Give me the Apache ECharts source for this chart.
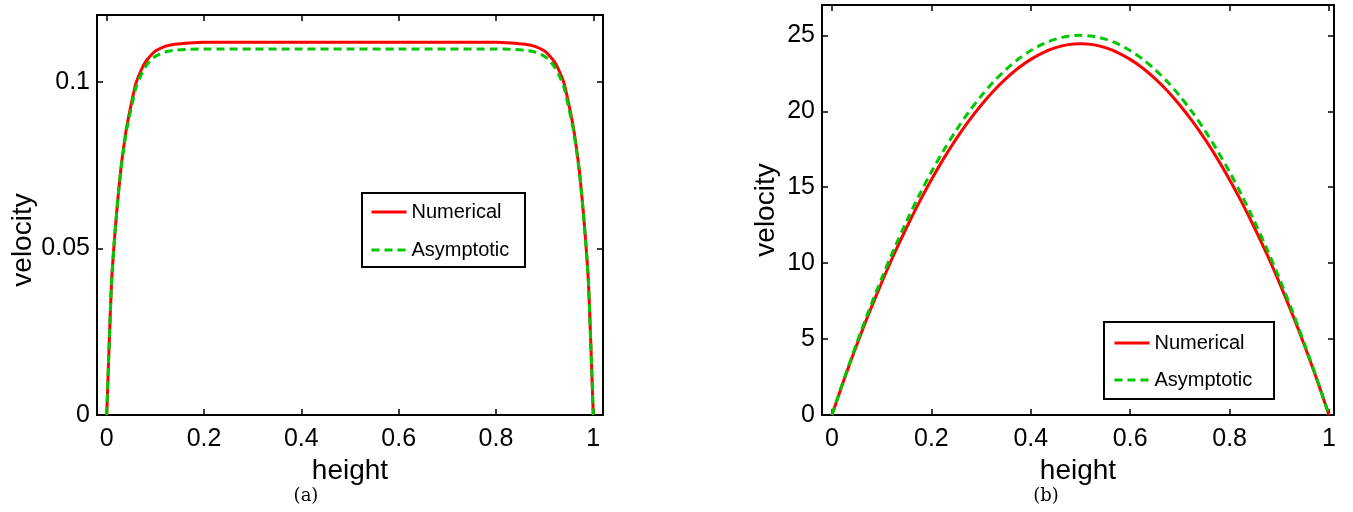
<!DOCTYPE html>
<html>
<head>
<meta charset="utf-8">
<script src="https://cdn.jsdelivr.net/npm/echarts@6/dist/echarts.min.js"></script>
<style>
html,body{margin:0;padding:0;background:#fff;}
#chart{width:1353px;height:512px;}
</style>
</head>
<body>
<div id="chart"></div>
<script>
// ---------- data ----------
const seriesNames = ['Numerical', 'Asymptotic'];

// panel (a)
const xA = [0, 0.005, 0.01, 0.015, 0.02, 0.025, 0.03, 0.035, 0.04, 0.045, 0.05, 0.06, 0.07, 0.08, 0.09, 0.10, 0.12, 0.14, 0.17, 0.2, 0.3, 0.4, 0.5,
            0.6, 0.7, 0.8, 0.83, 0.86, 0.88, 0.90, 0.91, 0.92, 0.93, 0.94, 0.95, 0.955, 0.96, 0.965, 0.97, 0.975, 0.98, 0.985, 0.99, 0.995, 1];
const numericalA = [0, 0.021, 0.040, 0.051, 0.060, 0.068, 0.075, 0.0805, 0.0855, 0.0895, 0.093, 0.0995, 0.1032, 0.1060, 0.1078, 0.1092, 0.1106, 0.1112, 0.1116, 0.1118, 0.1118, 0.1118, 0.1118,
            0.1118, 0.1118, 0.1118, 0.1116, 0.1112, 0.1106, 0.1092, 0.1078, 0.1060, 0.1032, 0.0995, 0.093, 0.0895, 0.0855, 0.0805, 0.075, 0.068, 0.060, 0.051, 0.040, 0.021, 0];
const asymptoticA = [0, 0.021, 0.040, 0.051, 0.060, 0.068, 0.0745, 0.080, 0.0848, 0.0885, 0.0918, 0.0982, 0.1018, 0.1045, 0.1064, 0.1076, 0.1089, 0.1094, 0.1097, 0.1098, 0.1098, 0.1098, 0.1098,
            0.1098, 0.1098, 0.1098, 0.1097, 0.1094, 0.1089, 0.1076, 0.1064, 0.1045, 0.1018, 0.0982, 0.0918, 0.0885, 0.0848, 0.080, 0.0745, 0.068, 0.060, 0.051, 0.040, 0.021, 0];

// panel (b)
const xB = [0, 0.025, 0.05, 0.075, 0.1, 0.125, 0.15, 0.175, 0.2, 0.225, 0.25, 0.275, 0.3, 0.325, 0.35, 0.375, 0.4, 0.425, 0.45, 0.475, 0.5,
            0.525, 0.55, 0.575, 0.6, 0.625, 0.65, 0.675, 0.7, 0.725, 0.75, 0.775, 0.8, 0.825, 0.85, 0.875, 0.9, 0.925, 0.95, 0.975, 1];
const numericalB = [0, 2.39, 4.63, 6.74, 8.72, 10.59, 12.33, 13.97, 15.49, 16.90, 18.18, 19.35, 20.40, 21.34, 22.15, 22.85, 23.42, 23.87, 24.19, 24.39, 24.45,
            24.39, 24.19, 23.87, 23.42, 22.85, 22.15, 21.34, 20.40, 19.35, 18.18, 16.90, 15.49, 13.97, 12.33, 10.59, 8.72, 6.74, 4.63, 2.39, 0];
const asymptoticB = [0, 2.44, 4.75, 6.94, 9.00, 10.94, 12.75, 14.44, 16.00, 17.44, 18.75, 19.94, 21.00, 21.94, 22.75, 23.44, 24.00, 24.44, 24.75, 24.94, 25.00,
            24.94, 24.75, 24.44, 24.00, 23.44, 22.75, 21.94, 21.00, 19.94, 18.75, 17.44, 16.00, 14.44, 12.75, 10.94, 9.00, 6.94, 4.75, 2.44, 0];

// tick labels
const xTicks = [0, 0.2, 0.4, 0.6, 0.8, 1];
const yTicksA = [0, 0.05, 0.1];
const yTicksB = [0, 5, 10, 15, 20, 25];
const xAxisTitle = 'height';
const yAxisTitle = 'velocity';
const captions = ['(a)', '(b)'];

// ---------- chart ----------
const FONT = '"Liberation Sans", Arial, Helvetica, sans-serif';
const RED = '#ff0000';
const GREEN = '#00c800';

function pairs(xs, ys) { return xs.map((x, i) => [x, ys[i]]); }

function xAxisDef(grid, min, max, pos, showLabel) {
  return {
    type: 'value', gridIndex: grid, position: pos, min: min, max: max,
    axisLine: { show: true, onZero: false, lineStyle: { color: '#000', width: 2 } },
    axisTick: { show: true, inside: true, length: 6, customValues: xTicks, lineStyle: { color: '#000', width: 1.5 } },
    axisLabel: { show: showLabel, customValues: xTicks, margin: 12, fontSize: 25, color: '#000', fontFamily: FONT },
    splitLine: { show: false },
    name: showLabel ? xAxisTitle : '', nameLocation: 'middle', nameGap: 30,
    nameTextStyle: { fontSize: 28, color: '#000', fontFamily: FONT }
  };
}
function yAxisDef(grid, min, max, pos, showLabel, ticks, gap, shiftDown) {
  return {
    type: 'value', gridIndex: grid, position: pos, min: min, max: max,
    axisLine: { show: true, onZero: false, lineStyle: { color: '#000', width: 2 } },
    axisTick: { show: true, inside: true, length: 6, customValues: ticks, lineStyle: { color: '#000', width: 1.5 } },
    axisLabel: { show: showLabel, customValues: ticks, margin: 7, fontSize: 25, color: '#000', fontFamily: FONT },
    splitLine: { show: false },
    name: showLabel ? yAxisTitle : '', nameLocation: 'middle', nameGap: gap,
    nameTextStyle: { fontSize: 28, color: '#000', fontFamily: FONT, padding: [0, shiftDown * 2, 0, 0] }
  };
}
function lineSeries(name, xi, yi, data, dashed) {
  return {
    type: 'line', name: name, xAxisIndex: xi, yAxisIndex: yi, data: data,
    symbol: 'none', smooth: 0.3, animation: false, z: 2,
    lineStyle: { color: dashed ? GREEN : RED, width: 3, type: dashed ? [8, 5] : 'solid' },
    itemStyle: { color: dashed ? GREEN : RED }
  };
}
function legendDef(left, top, gap, textGap) {
  return {
    show: true, orient: 'vertical', left: left, top: top, data: seriesNames,
    itemWidth: 35, itemHeight: 12, itemGap: gap, itemTextGap: textGap, padding: 0,
    selectedMode: false, z: 10,
    itemStyle: { opacity: 0 },
    lineStyle: { width: 3 },
    textStyle: { fontSize: 20, lineHeight: 20, color: '#000', fontFamily: FONT }
  };
}

const chart = echarts.init(document.getElementById('chart'), null, { renderer: 'canvas' });
chart.setOption({
  backgroundColor: '#fff',
  animation: false,
  grid: [
    { left: 97, top: 15, width: 506, height: 400, containLabel: false },
    { left: 822, top: 5, width: 512, height: 410, containLabel: false }
  ],
  xAxis: [
    xAxisDef(0, -0.02, 1.02, 'bottom', true),
    xAxisDef(0, -0.02, 1.02, 'top', false),
    xAxisDef(1, -0.02, 1.01, 'bottom', true),
    xAxisDef(1, -0.02, 1.01, 'top', false)
  ],
  yAxis: [
    yAxisDef(0, 0, 0.12, 'left', true, yTicksA, 55, 25),
    yAxisDef(0, 0, 0.12, 'right', false, yTicksA, 0, 0),
    yAxisDef(1, 0, 27, 'left', true, yTicksB, 42, 0),
    yAxisDef(1, 0, 27, 'right', false, yTicksB, 0, 0)
  ],
  legend: [legendDef(370, 202, 18, 2), legendDef(1113, 333, 17, 3)],
  graphic: [
    { type: 'rect', z: 5, shape: { x: 362, y: 193, width: 163, height: 74 }, style: { fill: '#fff', stroke: '#000', lineWidth: 2 } },
    { type: 'rect', z: 5, shape: { x: 1104, y: 322, width: 170, height: 77 }, style: { fill: '#fff', stroke: '#000', lineWidth: 2 } },
    { type: 'text', z: 5, x: 306, y: 496, style: { text: captions[0], fontSize: 18, fontFamily: '"DejaVu Serif", "Liberation Serif", serif', fill: '#000', textAlign: 'center', textVerticalAlign: 'middle' } },
    { type: 'text', z: 5, x: 1046, y: 496, style: { text: captions[1], fontSize: 18, fontFamily: '"DejaVu Serif", "Liberation Serif", serif', fill: '#000', textAlign: 'center', textVerticalAlign: 'middle' } }
  ],
  series: [
    lineSeries(seriesNames[0], 0, 0, pairs(xA, numericalA), false),
    lineSeries(seriesNames[1], 0, 0, pairs(xA, asymptoticA), true),
    lineSeries(seriesNames[0], 2, 2, pairs(xB, numericalB), false),
    lineSeries(seriesNames[1], 2, 2, pairs(xB, asymptoticB), true)
  ]
});
</script>
</body>
</html>
